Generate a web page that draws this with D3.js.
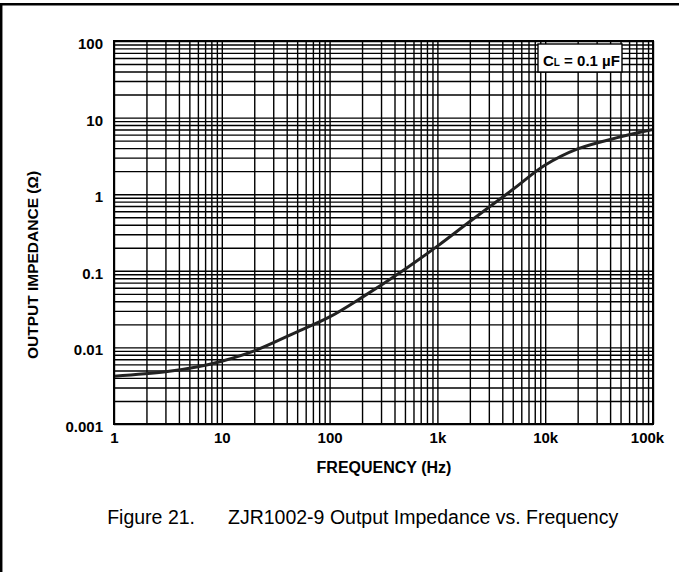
<!DOCTYPE html>
<html lang="en">
<head>
<meta charset="UTF-8">
<title>Output Impedance vs. Frequency</title>
<script src="https://d3js.org/d3.v7.min.js"></script>
<style>
  body { margin: 0; background: #fff; }
  text { font-family: "Liberation Sans", Arial, sans-serif; fill: #000; }
</style>
</head>
<body>
<script>
// curve
var freq = [1, 3, 6, 10, 20, 50, 100, 200, 500, 1000, 2000, 5000, 10000, 20000, 50000, 100000];
var impedance = [0.0042, 0.0048, 0.0056, 0.0066, 0.009, 0.016, 0.025, 0.045, 0.105, 0.21, 0.44, 1.15, 2.4, 3.9, 5.6, 7.0];

var xTicks = [1, 10, 100, 1000, 10000, 100000];
var xTickLabels = ["1", "10", "100", "1k", "10k", "100k"];
var yTicks = [0.001, 0.01, 0.1, 1, 10, 100];
var yTickLabels = ["0.001", "0.01", "0.1", "1", "10", "100"];

var width = 679, height = 572;
var pLeft = 114, pRight = 653, pTop = 41, pBottom = 424;

var svg = d3.select("body").append("svg")
    .attr("width", width).attr("height", height);

// outer frame (only top and left edges are in the picture)
svg.append("path")
    .attr("d", "M1.2," + (height + 5) + "V4.2H" + (width + 5))
    .attr("fill", "none").attr("stroke", "#000").attr("stroke-width", 2.5);

var x = d3.scaleLog().domain([1, 1e5]).range([pLeft, pRight]);
var y = d3.scaleLog().domain([0.001, 100]).range([pBottom, pTop]);

// grid positions 1..9 per decade
function minorGrid(lo, decades) {
  var out = [];
  for (var d = 0; d < decades; d++)
    for (var m = 1; m <= 9; m++) out.push(m * lo * Math.pow(10, d));
  out.push(lo * Math.pow(10, decades));
  return out;
}
var gridX = minorGrid(1, 5);
var gridY = minorGrid(0.001, 5);

var gx = svg.append("g")
    .attr("transform", "translate(0," + pBottom + ")")
    .call(d3.axisBottom(x).tickValues(gridX).tickSize(-(pBottom - pTop)).tickFormat(""));
var gy = svg.append("g")
    .attr("transform", "translate(" + pLeft + ",0)")
    .call(d3.axisLeft(y).tickValues(gridY).tickSize(-(pRight - pLeft)).tickFormat(""));
[gx, gy].forEach(function(g) {
  g.select(".domain").remove();
  g.selectAll(".tick line").attr("stroke", "#000").attr("stroke-width", 1.4);
});

// curve
svg.append("clipPath").attr("id", "plot")
  .append("rect").attr("x", pLeft).attr("y", pTop)
  .attr("width", pRight - pLeft).attr("height", pBottom - pTop);

var line = d3.line()
    .x(function(d, i) { return x(freq[i]); })
    .y(function(d) { return y(d); })
    .curve(d3.curveCatmullRom.alpha(0.5));

svg.append("path")
    .datum(impedance)
    .attr("clip-path", "url(#plot)")
    .attr("d", line)
    .attr("fill", "none")
    .attr("stroke", "#222")
    .attr("stroke-width", 3);

// plot border
svg.append("rect")
    .attr("x", pLeft).attr("y", pTop)
    .attr("width", pRight - pLeft).attr("height", pBottom - pTop)
    .attr("fill", "none").attr("stroke", "#000").attr("stroke-width", 2);

// tick labels
var xLab = svg.append("g")
    .attr("transform", "translate(0," + pBottom + ")")
    .call(d3.axisBottom(x).tickValues(xTicks).tickSize(0).tickPadding(8)
      .tickFormat(function(d, i) { return xTickLabels[i]; }));
var yLab = svg.append("g")
    .attr("transform", "translate(" + pLeft + ",0)")
    .call(d3.axisLeft(y).tickValues(yTicks).tickSize(0).tickPadding(11)
      .tickFormat(function(d, i) { return yTickLabels[i]; }));
[xLab, yLab].forEach(function(g) {
  g.select(".domain").remove();
  g.selectAll("text")
    .attr("font-family", "Liberation Sans, Arial, sans-serif")
    .attr("font-size", 15).attr("font-weight", "bold").attr("fill", "#000");
});
yLab.selectAll("text").attr("dy", "0.5em");
xLab.selectAll(".tick").filter(function(d) { return d === 1e5; })
    .select("text").attr("dx", "-6");

// axis titles
svg.append("text")
    .attr("x", 384).attr("y", 473)
    .attr("text-anchor", "middle")
    .attr("font-size", 16).attr("font-weight", "bold")
    .text("FREQUENCY (Hz)");

svg.append("text")
    .attr("transform", "translate(38,265) rotate(-90)")
    .attr("text-anchor", "middle")
    .attr("font-size", 15.5).attr("font-weight", "bold")
    .text("OUTPUT IMPEDANCE (Ω)");

// legend box
svg.append("rect")
    .attr("x", 538).attr("y", 44).attr("width", 84).attr("height", 28)
    .attr("fill", "#fff").attr("stroke", "#000").attr("stroke-width", 1.4);
var lt = svg.append("text")
    .attr("x", 543).attr("y", 66)
    .attr("font-size", 15).attr("font-weight", "bold");
lt.append("tspan").text("C");
lt.append("tspan").attr("font-size", 10).text("L");
lt.append("tspan").text(" = 0.1 µF");

// caption
svg.append("text").attr("x", 195).attr("y", 524)
    .attr("text-anchor", "end")
    .attr("font-size", 19.5).text("Figure 21.");
svg.append("text").attr("x", 228).attr("y", 524)
    .attr("font-size", 19.5).text("ZJR1002-9 Output Impedance vs. Frequency");
</script>
</body>
</html>
